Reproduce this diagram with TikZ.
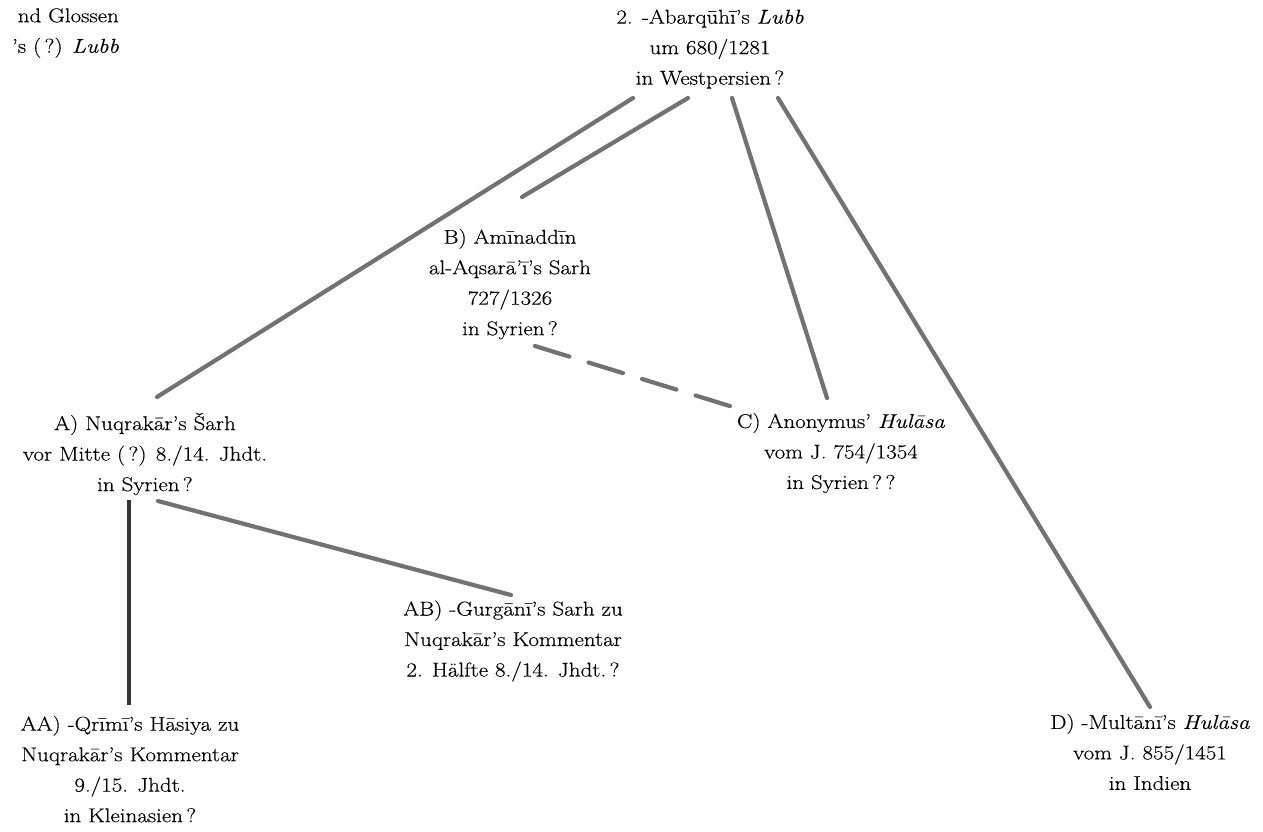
\documentclass[tikz,border=0pt]{standalone}
\usepackage{fontspec}
\setmainfont{Latin Modern Roman}[FakeStretch=1.15, FakeBold=0.3]
\usetikzlibrary{calc}
\begin{document}
\begin{tikzpicture}[x=1pt,y=-1pt,
  entry/.style={inner sep=0pt, align=center, font=\fontsize{20}{30.5}\selectfont},
  link/.style={line width=4.2pt, draw=linkgray, line cap=round},
  darklink/.style={line width=3.2pt, draw=darkgray},
  dashlink/.style={link, dash pattern=on 36pt off 20pt}]
\definecolor{linkgray}{HTML}{727272}
\definecolor{darkgray}{HTML}{353535}
\useasboundingbox[fill=white] (0,0) rectangle (1263,831);

% manuscript entries
\node[entry, anchor=east, align=right] (gl) at (119,33)
  {nd Glossen\\’s (\,?) \textit{Lubb}};
\node[entry] (top) at (710,49)
  {2. -Abarqūhī’s \textit{Lubb}\\um 680/1281\\in Westpersien\,?};
\node[entry] (b) at (510,284)
  {B) Amīnaddīn\\al-Aqsarā’ī’s Sarh\\727/1326\\in Syrien\,?};
\node[entry] (a) at (145,454)
  {A) Nuqrakār’s Šarh\\vor Mitte (\,?) 8./14. Jhdt.\\in Syrien\,?};
\node[entry] (c) at (841,453)
  {C) Anonymus’ \textit{Hulāsa}\\vom J. 754/1354\\in Syrien\,?\,?};
\node[entry] (ab) at (513,641)
  {AB) -Gurgānī’s Sarh zu\\Nuqrakār’s Kommentar\\2. Hälfte 8./14. Jhdt.\,?};
\node[entry] (aa) at (130,769)
  {AA) -Qrīmī’s Hāsiya zu\\Nuqrakār’s Kommentar\\9./15. Jhdt.\\in Kleinasien\,?};
\node[entry] (d) at (1150,752)
  {D) -Multānī’s \textit{Hulāsa}\\vom J. 855/1451\\in Indien};

% connector end points, placed relative to the entry centres
\coordinate (t1) at ($(top.center)+(-77,49)$);
\coordinate (t2) at ($(top.center)+(-22,49)$);
\coordinate (t3) at ($(top.center)+(22,49)$);
\coordinate (t4) at ($(top.center)+(68,49)$);
\coordinate (a-in) at ($(a.center)+(12,-57)$);
\coordinate (b-in) at ($(b.center)+(12,-87)$);
\coordinate (c-in) at ($(c.center)+(-14,-55)$);
\coordinate (d-in) at ($(d.center)+(0,-45)$);
\coordinate (b-out) at ($(b.center)+(25,62)$);
\coordinate (c-dash) at ($(c.center)+(-108,-46)$);
\coordinate (a-right) at ($(a.center)+(13,47)$);
\coordinate (ab-in) at ($(ab.center)+(-2,-46)$);
\coordinate (a-down) at ($(a.center)+(-16,46)$);
\coordinate (aa-in) at ($(aa.center)+(-1,-64)$);

% filiation lines
\draw[link] (t1) -- (a-in);
\draw[link] (t2) -- (b-in);
\draw[link] (t3) -- (c-in);
\draw[link] (t4) -- (d-in);
\draw[dashlink] (b-out) -- (c-dash);
\draw[link] (a-right) -- (ab-in);
\draw[darklink] (a-down) -- (aa-in);
\end{tikzpicture}
\end{document}
